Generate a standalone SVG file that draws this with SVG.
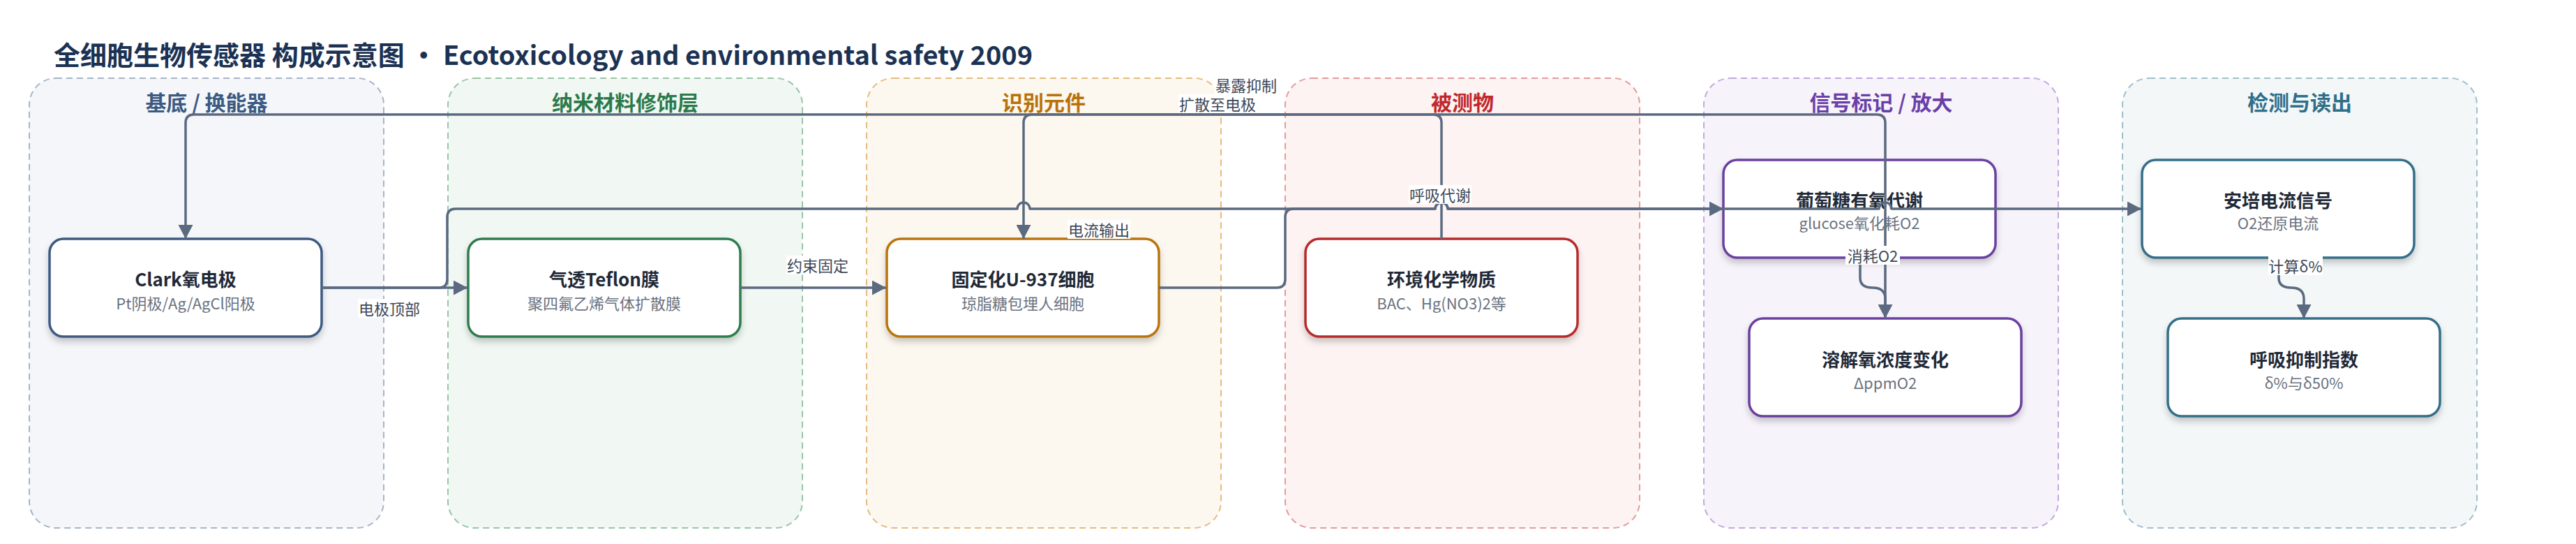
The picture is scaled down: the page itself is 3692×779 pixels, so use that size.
<svg xmlns="http://www.w3.org/2000/svg" width="3692" height="779" viewBox="0 0 3692 779">
<style>
text{font-family:"Noto Sans CJK SC","Noto Sans",sans-serif;dominant-baseline:central;text-anchor:middle}
.title{font-size:38px;font-weight:700;fill:#1b3254;text-anchor:start}
.gbox{stroke-width:2;stroke-dasharray:9 6}
.gt{font-size:30px;font-weight:700}
.nbox{fill:#ffffff;stroke-width:3.5}
.nt{font-size:26px;font-weight:700;fill:#1f2937}
.ns{font-size:22px;fill:#6b7280}
.edge{fill:none;stroke:#5b6a80;stroke-width:3.5;stroke-linejoin:round}
.arr{marker-end:url(#ah)}
.el{font-size:22px;fill:#3d4858}
.lb{fill:#ffffff}
</style>
<defs>
<marker id="ah" markerUnits="userSpaceOnUse" markerWidth="20" markerHeight="21" refX="20" refY="10.5" orient="auto">
<path d="M0,0 L20,10.5 L0,21 z" fill="#5b6a80"/>
</marker>
<filter id="sh" x="-10%" y="-10%" width="120%" height="140%">
<feDropShadow dx="0" dy="6" stdDeviation="5" flood-color="#000" flood-opacity="0.2"/>
</filter>
</defs>
<rect width="3692" height="779" fill="#ffffff"/>
<text class="title" x="77" y="76">全细胞生物传感器 构成示意图 · Ecotoxicology and environmental safety 2009</text>

<g id="groups">
<g id="g-substrate"><rect class="gbox" x="42" y="112" width="508" height="644" rx="38" fill="#f4f6fa" stroke="#a7b4c8"/><text class="gt" x="296" y="145" fill="#3c5a82">基底 / 换能器</text></g>
<g id="g-nano"><rect class="gbox" x="642" y="112" width="508" height="644" rx="38" fill="#f1f8f3" stroke="#98c5a8"/><text class="gt" x="896" y="145" fill="#2c7a4b">纳米材料修饰层</text></g>
<g id="g-recog"><rect class="gbox" x="1242" y="112" width="508" height="644" rx="38" fill="#fdf8ef" stroke="#e2bc80"/><text class="gt" x="1496" y="145" fill="#b8720b">识别元件</text></g>
<g id="g-analyte"><rect class="gbox" x="1842" y="112" width="508" height="644" rx="38" fill="#fdf3f2" stroke="#e39b9b"/><text class="gt" x="2096" y="145" fill="#c0282c">被测物</text></g>
<g id="g-signal"><rect class="gbox" x="2442" y="112" width="508" height="644" rx="38" fill="#f7f3fb" stroke="#c3a8de"/><text class="gt" x="2696" y="145" fill="#6b3fa8">信号标记 / 放大</text></g>
<g id="g-detect"><rect class="gbox" x="3042" y="112" width="508" height="644" rx="38" fill="#f3f7f8" stroke="#9ebfcc"/><text class="gt" x="3296" y="145" fill="#2e6f8a">检测与读出</text></g>
</g>

<g id="nodes">
<g id="n-clark"><rect class="nbox" x="71" y="342" width="390" height="140" rx="20" stroke="#3c5a82" filter="url(#sh)"/><text class="nt" x="266" y="398">Clark氧电极</text><text class="ns" x="266" y="433">Pt阴极/Ag/AgCl阳极</text></g>
<g id="n-teflon"><rect class="nbox" x="671" y="342" width="390" height="140" rx="20" stroke="#2e7d4e" filter="url(#sh)"/><text class="nt" x="866" y="398">气透Teflon膜</text><text class="ns" x="866" y="433">聚四氟乙烯气体扩散膜</text></g>
<g id="n-cell"><rect class="nbox" x="1271" y="342" width="390" height="140" rx="20" stroke="#b8740a" filter="url(#sh)"/><text class="nt" x="1466" y="398">固定化U-937细胞</text><text class="ns" x="1466" y="433">琼脂糖包埋人细胞</text></g>
<g id="n-chem"><rect class="nbox" x="1871" y="342" width="390" height="140" rx="20" stroke="#b82a2a" filter="url(#sh)"/><text class="nt" x="2066" y="398">环境化学物质</text><text class="ns" x="2066" y="433">BAC、Hg(NO3)2等</text></g>
<g id="n-glucose"><rect class="nbox" x="2470" y="229" width="390" height="140" rx="20" stroke="#6a41a0" filter="url(#sh)"/><text class="nt" x="2665" y="285">葡萄糖有氧代谢</text><text class="ns" x="2665" y="318">glucose氧化耗O2</text></g>
<g id="n-do"><rect class="nbox" x="2507" y="456" width="390" height="140" rx="20" stroke="#6a41a0" filter="url(#sh)"/><text class="nt" x="2702" y="513">溶解氧浓度变化</text><text class="ns" x="2702" y="547">ΔppmO2</text></g>
<g id="n-amp"><rect class="nbox" x="3070" y="229" width="390" height="140" rx="20" stroke="#346e89" filter="url(#sh)"/><text class="nt" x="3265" y="285">安培电流信号</text><text class="ns" x="3265" y="318">O2还原电流</text></g>
<g id="n-index"><rect class="nbox" x="3107" y="456" width="390" height="140" rx="20" stroke="#346e89" filter="url(#sh)"/><text class="nt" x="3302" y="513">呼吸抑制指数</text><text class="ns" x="3302" y="547">δ%与δ50%</text></g>
</g>

<g id="connectors">
<path class="edge arr" d="M461,412 H670"/>
<path class="edge arr" d="M1061,412 H1270"/>
<path class="edge arr" d="M461,412 H629 Q641,412 641,400 V311 Q641,299 653,299 H1458 A9,9 0 0 1 1476,299 H2057 A9,9 0 0 1 2075,299 H2693 A9,9 0 0 1 2711,299 H3069"/>
<path class="edge arr" d="M1661,412 H1830 Q1842,412 1842,400 V311 Q1842,299 1854,299 H2057 A9,9 0 0 1 2075,299 H2470"/>
<path class="edge arr" d="M2066,342 V176 Q2066,164 2054,164 H1479 Q1467,164 1467,176 V342"/>
<path class="edge arr" d="M2702,456 V176 Q2702,164 2690,164 H278 Q266,164 266,176 V342"/>
<path class="edge arr" d="M2666,369 V398 Q2666,412 2684,412 Q2702,412 2702,428 V456"/>
<path class="edge arr" d="M3266,369 V398 Q3266,412 3284,412 Q3302,412 3302,428 V456"/>
<g id="edge-labels">
<rect class="lb" x="513" y="428" width="90" height="27"/><text class="el" x="558" y="441">电极顶部</text>
<rect class="lb" x="1127" y="366" width="90" height="27"/><text class="el" x="1172" y="379">约束固定</text>
<rect class="lb" x="1530" y="315" width="90" height="27"/><text class="el" x="1575" y="328">电流输出</text>
<rect class="lb" x="2019" y="265" width="90" height="27"/><text class="el" x="2064" y="278">呼吸代谢</text>
<rect class="lb" x="1741" y="108" width="90" height="27"/><text class="el" x="1786" y="121">暴露抑制</text>
<rect class="lb" x="1689" y="135" width="112" height="27"/><text class="el" x="1745" y="148">扩散至电极</text>
<rect class="lb" x="2645" y="352" width="78" height="27"/><text class="el" x="2684" y="365">消耗O2</text>
<rect class="lb" x="3251" y="367" width="78" height="27"/><text class="el" x="3290" y="380">计算δ%</text>
</g>
</g>
</svg>
